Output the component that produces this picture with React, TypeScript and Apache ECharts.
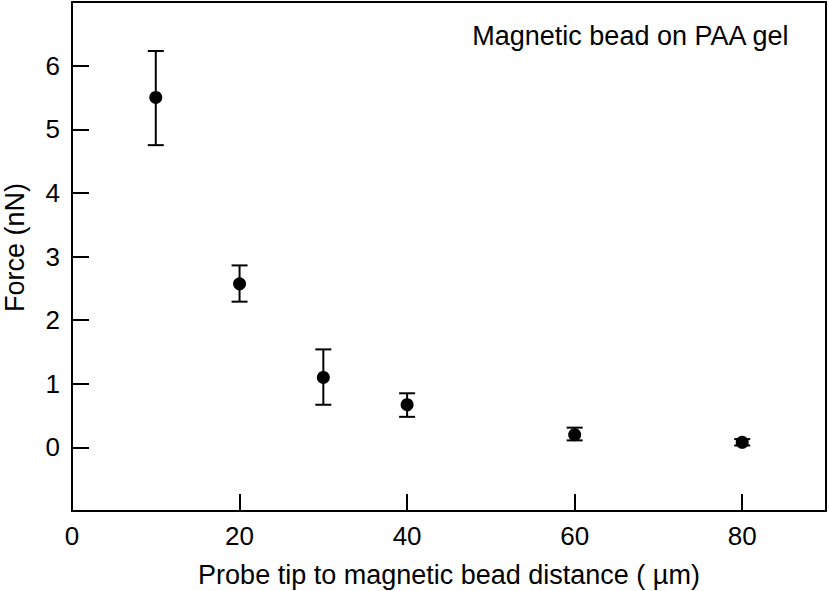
import React, { useEffect, useRef } from "react";
import * as echarts from "echarts";

const distances = [10, 20, 30, 40, 60, 80];
const forces = [5.5, 2.57, 1.1, 0.67, 0.2, 0.08];
const errLow = [4.75, 2.29, 0.67, 0.48, 0.11, 0.03];
const errHigh = [6.23, 2.86, 1.54, 0.85, 0.31, 0.13];

const xTitle = "Probe tip to magnetic bead distance ( µm)";
const yTitle = "Force (nN)";
const panelLabel = "Magnetic bead on PAA gel";

const FONT = "'Liberation Sans', Arial, Helvetica, sans-serif";

export default function App() {
  const ref = useRef<HTMLDivElement>(null);
  useEffect(() => {
    if (!ref.current) return;
    const chart = echarts.init(ref.current, undefined, { renderer: "svg" });
    const points = distances.map((d, i) => [d, forces[i]]);
    const bars = distances.map((d, i) => [d, errLow[i], errHigh[i]]);
    const frameAxis = {
      axisLine: { show: true, onZero: false, lineStyle: { color: "#000", width: 2 } },
      axisTick: { show: false },
      axisLabel: { show: false },
      splitLine: { show: false },
    };
    chart.setOption({
      animation: false,
      backgroundColor: "#fff",
      grid: {
        left: 72,
        right: 3,
        top: 2,
        bottom: 80,
        containLabel: false,
        outerBoundsMode: "none",
      },
      title: {
        text: panelLabel,
        right: 34,
        top: 17,
        textStyle: { fontFamily: FONT, fontSize: 27, fontWeight: "normal", color: "#000" },
      },
      xAxis: [
        {
          type: "value",
          min: 0,
          max: 90,
          interval: 20,
          name: xTitle,
          nameLocation: "middle",
          nameGap: 50,
          nameTextStyle: { fontFamily: FONT, fontSize: 27, color: "#000" },
          axisLine: { show: true, onZero: false, lineStyle: { color: "#000", width: 2 } },
          axisTick: { show: true, inside: true, length: 17, lineStyle: { color: "#000", width: 2 } },
          axisLabel: {
            fontFamily: FONT,
            fontSize: 26,
            color: "#000",
            margin: 12,
            showMaxLabel: false,
          },
          splitLine: { show: false },
        },
        { type: "value", position: "top", min: 0, max: 90, ...frameAxis },
      ],
      yAxis: [
        {
          type: "value",
          min: -1,
          max: 7,
          interval: 1,
          name: yTitle,
          nameLocation: "middle",
          nameGap: 44,
          nameTextStyle: { fontFamily: FONT, fontSize: 27, color: "#000", padding: [0, 0, 0, 18] },
          axisLine: { show: true, onZero: false, lineStyle: { color: "#000", width: 2 } },
          axisTick: { show: true, inside: true, length: 17, lineStyle: { color: "#000", width: 2 } },
          axisLabel: {
            fontFamily: FONT,
            fontSize: 26,
            color: "#000",
            margin: 12,
            formatter: (v: number) => (v < 0 || v > 6 ? "" : String(v)),
          },
          splitLine: { show: false },
        },
        { type: "value", position: "right", min: -1, max: 7, ...frameAxis },
      ],
      series: [
        {
          type: "custom",
          data: bars,
          renderItem: (params: any, api: any) => {
            const x = api.value(0);
            const lo = api.coord([x, api.value(1)]);
            const hi = api.coord([x, api.value(2)]);
            const hw = 8;
            const style = { stroke: "#000", lineWidth: 2 };
            return {
              type: "group",
              children: [
                { type: "line", shape: { x1: lo[0], y1: lo[1], x2: hi[0], y2: hi[1] }, style },
                { type: "line", shape: { x1: lo[0] - hw, y1: lo[1], x2: lo[0] + hw, y2: lo[1] }, style },
                { type: "line", shape: { x1: hi[0] - hw, y1: hi[1], x2: hi[0] + hw, y2: hi[1] }, style },
              ],
            };
          },
          z: 2,
        },
        {
          type: "scatter",
          data: points,
          symbol: "circle",
          symbolSize: 13,
          itemStyle: { color: "#000", opacity: 1 },
          z: 3,
        },
      ],
    });
    return () => chart.dispose();
  }, []);
  return (
    <div
      ref={ref}
      style={{ width: 829, height: 591, position: "absolute", left: 0, top: 0 }}
    />
  );
}
